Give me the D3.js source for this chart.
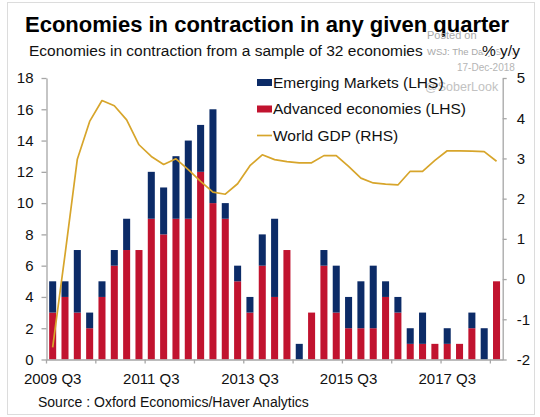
<!DOCTYPE html>
<html>
<head>
<meta charset="utf-8">
<script src="https://cdn.jsdelivr.net/npm/d3@7"></script>
<style>
  body { margin: 0; background: #fff; }
  svg { display: block; font-family: "Liberation Sans", Arial, sans-serif; }
</style>
</head>
<body>
<div id="chart"></div>
<script>

var quarters = [
	'2009 Q3', '2009 Q4', '2010 Q1', '2010 Q2', '2010 Q3', '2010 Q4', '2011 Q1', '2011 Q2',
	'2011 Q3', '2011 Q4', '2012 Q1', '2012 Q2', '2012 Q3', '2012 Q4', '2013 Q1', '2013 Q2',
	'2013 Q3', '2013 Q4', '2014 Q1', '2014 Q2', '2014 Q3', '2014 Q4', '2015 Q1', '2015 Q2',
	'2015 Q3', '2015 Q4', '2016 Q1', '2016 Q2', '2016 Q3', '2016 Q4', '2017 Q1', '2017 Q2',
	'2017 Q3', '2017 Q4', '2018 Q1', '2018 Q2', '2018 Q3'
];
var xLabels = ['2009 Q3', '2011 Q3', '2013 Q3', '2015 Q3', '2017 Q3'];

// number of economies in contraction (stacked)
var advanced = [3, 4, 3, 2, 4, 6, 7, 7, 9, 8, 9, 9, 12, 10, 9, 5, 3, 6, 4, 7, 0, 3, 6, 3, 2, 2, 2, 4, 3, 1, 1, 1, 1, 1, 2, 0, 5];
var emerging = [2, 1, 4, 1, 1, 1, 2, 0, 3, 3, 4, 5, 3, 6, 1, 1, 1, 2, 5, 0, 1, 0, 1, 3, 2, 3, 4, 1, 1, 1, 2, 0, 1, 0, 1, 2, 0];

// world GDP, % y/y
var worldGdp = [-1.70, 0.60, 2.98, 3.92, 4.44, 4.31, 3.96, 3.34, 3.05, 2.85, 2.99, 2.72, 2.43, 2.16, 2.11, 2.37, 2.82, 3.09,
	2.97, 2.92, 2.89, 2.89, 3.07, 3.07, 2.80, 2.51, 2.39, 2.36, 2.34, 2.68, 2.68, 2.95, 3.19, 3.19, 3.18, 3.17, 2.93];

var leftTicks = [0, 2, 4, 6, 8, 10, 12, 14, 16, 18];
var rightTicks = [-2, -1, 0, 1, 2, 3, 4, 5];

(function() {

	var BLUE = '#0c2b67';
	var RED = '#c1132f';
	var GOLD = '#d7a52b';
	var AXIS = '#a6a6a6';

	var W = 540, H = 417;
	var plotLeft = 46.5, plotRight = 502.7, plotTop = 78, plotBottom = 359.5;

	var svg = d3.select('#chart').append('svg').attr('width', W).attr('height', H);

	svg.append('rect')
		.attr('x', 7.5).attr('y', 2.5).attr('width', 527).attr('height', 412)
		.attr('fill', '#fff').attr('stroke', '#dcdcdc');

	var x = d3.scaleBand().domain(quarters).range([plotLeft, plotRight]).paddingInner(0.43).paddingOuter(0.215);
	var yL = d3.scaleLinear().domain([0, 18]).range([plotBottom, plotTop]);
	var yR = d3.scaleLinear().domain([-2, 5]).range([plotBottom, plotTop]);
	var step = x.step();

	// bars
	var rows = quarters.map(function(q, i) {
		return { q: q, adv: advanced[i], em: emerging[i] };
	});

	var g = svg.append('g');

	g.selectAll('rect.adv').data(rows).enter().append('rect')
		.attr('class', 'adv')
		.attr('x', function(d) { return x(d.q); })
		.attr('width', x.bandwidth())
		.attr('y', function(d) { return yL(d.adv); })
		.attr('height', function(d) { return yL(0) - yL(d.adv); })
		.attr('fill', RED);

	g.selectAll('rect.em').data(rows).enter().append('rect')
		.attr('class', 'em')
		.attr('x', function(d) { return x(d.q); })
		.attr('width', x.bandwidth())
		.attr('y', function(d) { return yL(d.adv + d.em); })
		.attr('height', function(d) { return yL(d.adv) - yL(d.adv + d.em); })
		.attr('fill', BLUE);

	// world gdp line
	var line = d3.line()
		.x(function(d, i) { return x(quarters[i]) + x.bandwidth() / 2; })
		.y(function(d) { return yR(d); });

	svg.append('path')
		.datum(worldGdp)
		.attr('d', line)
		.attr('fill', 'none')
		.attr('stroke', GOLD)
		.attr('stroke-width', 1.7)
		.attr('stroke-linejoin', 'round');

	// axes
	function styleAxis(sel) {
		sel.select('.domain').attr('stroke', AXIS).attr('stroke-width', 1.3);
		sel.selectAll('.tick line').attr('stroke', AXIS).attr('stroke-width', 1.3);
		sel.selectAll('.tick text').attr('fill', '#111').style('font-size', '15px').style('font-family', '"Liberation Sans", Arial, sans-serif');
	}

	var plain = function(d) { return String(d); };

	var axL = svg.append('g')
		.attr('transform', 'translate(' + plotLeft + ',0)')
		.call(d3.axisLeft(yL).tickValues(leftTicks).tickFormat(plain).tickSize(5).tickSizeOuter(0).tickPadding(8));
	styleAxis(axL);

	var axR = svg.append('g')
		.attr('transform', 'translate(' + plotRight + ',0)')
		.call(d3.axisRight(yR).tickValues(rightTicks).tickFormat(plain).tickSize(4).tickSizeOuter(0).tickPadding(10));
	styleAxis(axR);

	var axB = svg.append('g')
		.attr('transform', 'translate(0,' + plotBottom + ')')
		.call(d3.axisBottom(x).tickValues(xLabels).tickSize(0).tickSizeOuter(0).tickPadding(10));
	styleAxis(axB);
	axB.selectAll('.tick text').attr('dy', '0.95em');

	// category boundary ticks every 4 quarters
	axB.selectAll('line.qtick')
		.data(quarters.filter(function(q, i) { return i % 4 === 0; }))
		.enter().append('line')
		.attr('class', 'qtick')
		.attr('x1', function(q) { return x(q) - step * 0.215; })
		.attr('x2', function(q) { return x(q) - step * 0.215; })
		.attr('y1', 0).attr('y2', 4)
		.attr('stroke', AXIS).attr('stroke-width', 1.3);

	// titles
	svg.append('text')
		.attr('x', 25).attr('y', 32)
		.style('font-size', '22px').style('font-weight', 'bold')
		.attr('fill', '#000')
		.text('Economies in contraction in any given quarter');

	// watermark
	var wm = svg.append('g').attr('fill', '#a9a9a9');
	wm.append('text').attr('x', 427).attr('y', 39).style('font-size', '11px').text('Posted on');
	wm.append('text').attr('x', 427).attr('y', 55).style('font-size', '9.5px').text('WSJ: The Daily Shot');
	wm.append('text').attr('x', 457).attr('y', 71).style('font-size', '10px').attr('fill', '#b5b5b5').text('17-Dec-2018');
	wm.append('text').attr('x', 425).attr('y', 91).style('font-size', '12.5px').attr('fill', '#c2c2c2').text('@SoberLook');

	svg.append('text')
		.attr('x', 29).attr('y', 55.5)
		.style('font-size', '15.5px')
		.attr('fill', '#111')
		.text('Economies in contraction from a sample of 32 economies');

	svg.append('text')
		.attr('x', 482).attr('y', 55.5)
		.style('font-size', '15.5px')
		.attr('fill', '#111')
		.attr('stroke', '#fff').attr('stroke-width', 3).attr('paint-order', 'stroke')
		.text('% y/y');

	// legend
	var legend = [
		{ name: 'Emerging Markets (LHS)', type: 'bar', color: BLUE },
		{ name: 'Advanced economies (LHS)', type: 'bar', color: RED },
		{ name: 'World GDP (RHS)', type: 'line', color: GOLD }
	];

	var lg = svg.append('g').attr('transform', 'translate(257,0)');
	legend.forEach(function(d, i) {
		var cy = 82 + i * 26.5;
		if (d.type === 'bar')
			lg.append('rect').attr('x', 0).attr('y', cy - 3).attr('width', 15).attr('height', 7).attr('fill', d.color);
		else
			lg.append('line').attr('x1', 0).attr('x2', 15).attr('y1', cy + 0.5).attr('y2', cy + 0.5).attr('stroke', d.color).attr('stroke-width', 1.7);
		lg.append('text').attr('x', 16).attr('y', cy + 5.5).style('font-size', '15.5px').attr('fill', '#111').text(d.name);
	});

	// source
	svg.append('text')
		.attr('x', 38).attr('y', 407)
		.style('font-size', '14px')
		.attr('fill', '#111')
		.text('Source : Oxford Economics/Haver Analytics');

})();

</script>
</body>
</html>
